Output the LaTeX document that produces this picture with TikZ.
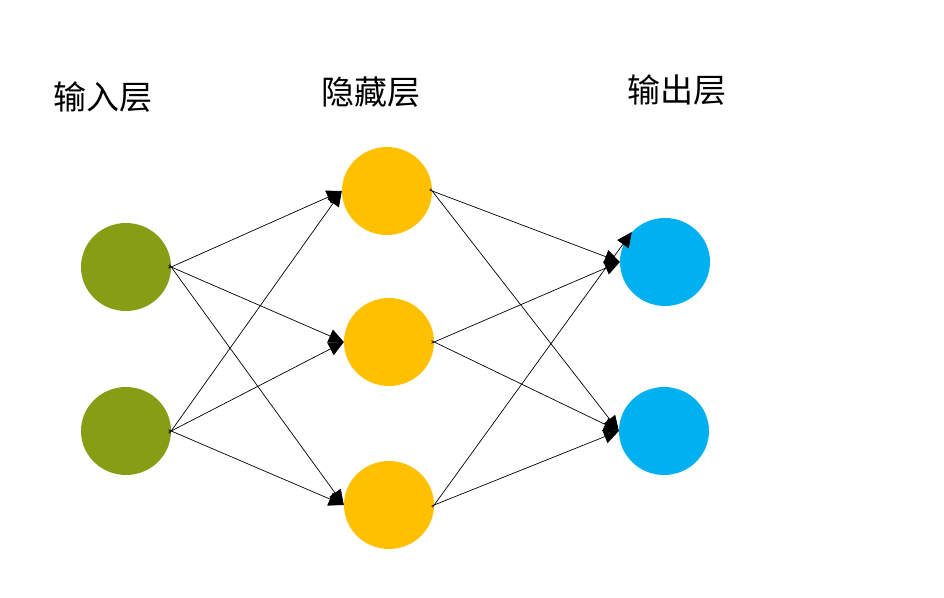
\documentclass[tikz,border=0pt]{standalone}
\usepackage{fontspec}
\newfontfamily\cjk{Noto Sans CJK SC}
\usetikzlibrary{shapes.geometric, arrows.meta}
\definecolor{inputgreen}{RGB}{134,157,20}
\definecolor{hiddengold}{RGB}{255,192,0}
\definecolor{outputblue}{RGB}{0,176,240}

\begin{document}
\begin{tikzpicture}[x=1pt,y=1pt,
  neuron/.style={ellipse, minimum width=90pt, minimum height=88pt, inner sep=0pt},
  layername/.style={font=\cjk\fontsize{33}{38}\selectfont},
  conn/.style={line width=0.7pt, shorten <=-3pt, -{Triangle[length=15pt,width=14pt]}}]
\useasboundingbox (0,0) rectangle (944,597);
\node[layername] (lblin) at (103,500) {输入层};
\node[layername] (lblhid) at (371,505) {隐藏层};
\node[layername] (lblout) at (677,507) {输出层};
\node[neuron, fill=inputgreen] (in1) at (126,330) {};
\node[neuron, fill=inputgreen] (in2) at (126,166) {};
\node[neuron, fill=hiddengold] (hid1) at (387,406) {};
\node[neuron, fill=hiddengold] (hid2) at (389,255) {};
\node[neuron, fill=hiddengold] (hid3) at (389,92) {};
\node[neuron, fill=outputblue] (out1) at (665,335) {};
\node[neuron, fill=outputblue] (out2) at (664,166) {};
\foreach \i in {in1,in2}
  \foreach \h in {hid1,hid2,hid3}
    \draw[conn] (\i.east) -- (\h.west);
\draw[conn] (hid1.east) -- (out1.west);
\draw[conn] (hid2.east) -- (out1.west);
\draw[conn] (hid3.east) -- (out1.138);
\foreach \h in {hid1,hid2,hid3}
  \draw[conn] (\h.east) -- (out2.west);
\end{tikzpicture}
\end{document}
